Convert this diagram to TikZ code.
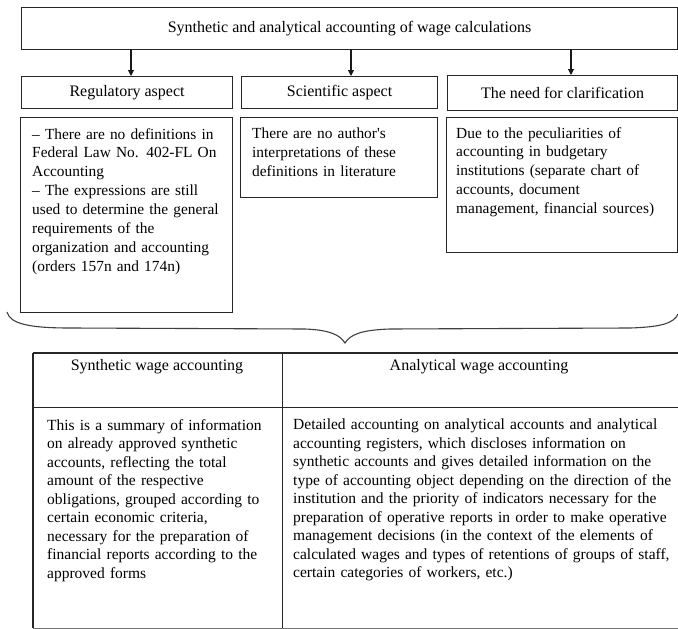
\documentclass[tikz,border=0pt]{standalone}
\usepackage{fontspec}
\setmainfont{Liberation Serif}
\usetikzlibrary{arrows.meta}
\begin{document}
\begin{tikzpicture}[x=1pt,y=-1pt,
  box/.style={draw=black!85, line width=1.1pt, inner sep=0pt, anchor=north west, font=\fontsize{16}{19}\selectfont},
  txt/.style={inner sep=0pt, anchor=north west, align=left},
  toptxt/.style={txt, font=\fontsize{15.4}{18.9}\selectfont},
  tabtxt/.style={txt, font=\fontsize{15.5}{18.5}\selectfont},
  hdr/.style={inner sep=0pt, font=\fontsize{16}{19}\selectfont},
  arr/.style={draw=black!90, line width=1.1pt, -{Triangle[length=6pt,width=6pt]}},
  rule/.style={draw=black!85, line width=1.1pt},
  cell/.style={inner sep=0pt, anchor=north west}]
\useasboundingbox (0,0) rectangle (678,629);
\fill[white] (0,0) rectangle (678,629);

% top box
\node[box, minimum width=656pt, minimum height=42pt] (top) at (21,7) {Synthetic and analytical accounting of wage calculations};

% second row
\node[box, minimum width=211pt, minimum height=32pt] (reg) at (21,76) {Regulatory aspect};
\node[box, minimum width=196pt, minimum height=32pt] (sci) at (241,76) {Scientific aspect};
\node[box, minimum width=230pt, minimum height=35pt] (need) at (447,75) {The need for clarification};

\coordinate (a1) at (131,49);
\coordinate (a2) at (351,49);
\coordinate (a3) at (571,49);
\draw[arr] (a1) -- (a1 |- reg.north);
\draw[arr] (a2) -- (a2 |- sci.north);
\draw[arr] (a3) -- (a3 |- need.north);

% third row boxes
\node[box, minimum width=212pt, minimum height=195pt] (regb) at (20,117) {};
\node[box, minimum width=197pt, minimum height=80pt] (scib) at (240,117) {};
\node[box, minimum width=231pt, minimum height=135pt] (needb) at (446,117) {};

\node[toptxt, text width=240pt] (regt) at (32,128) {-- There are no definitions in\\
Federal Law No. 402-FL On\\
Accounting\\
-- The expressions are still\\
used to determine the general\\
requirements of the\\
organization and accounting\\
(orders 157n and 174n)};

\node[toptxt, text width=220pt] (scit) at (252,128) {There are no author\textquotesingle s\\
interpretations of these\\
definitions in literature};

\node[toptxt, text width=260pt] (needt) at (456,127) {Due to the peculiarities of\\
accounting in budgetary\\
institutions (separate chart of\\
accounts, document\\
management, financial sources)};

% brace
\draw[draw=black!75, line width=1.1pt]
  (7,312) .. controls (10,324) and (30,328) .. (70,328)
  -- (305,329) .. controls (330,330) and (340,335) .. (345,343)
  .. controls (350,335) and (360,330) .. (390,329)
  -- (630,328) .. controls (662,327) and (674,323) .. (678,314);

% table
\node[cell, minimum width=249pt, minimum height=54pt] (synh) at (33,353) {};
\node[cell, minimum width=396pt, minimum height=54pt] (anah) at (282,353) {};
\node[cell, minimum width=249pt, minimum height=221pt] (synb) at (33,407) {};
\node[cell, minimum width=396pt, minimum height=221pt] (anab) at (282,407) {};

\draw[rule] (synh.north west) -- (anah.north east);
\draw[rule] (synh.south west) -- (anah.south east);
\draw[rule] (synh.north west) -- (synb.south west);
\draw[rule] (synh.north east) -- (synb.south east);
\draw[draw=black!55, line width=1.1pt] (synb.south west) -- (anab.south east);

\node[hdr] (synhl) at (157,367) {Synthetic wage accounting};
\node[hdr] (anahl) at (479,367) {Analytical wage accounting};

\node[tabtxt, text width=280pt] (synt) at (47,419) {This is a summary of information\\
on already approved synthetic\\
accounts, reflecting the total\\
amount of the respective\\
obligations, grouped according to\\
certain economic criteria,\\
necessary for the preparation of\\
financial reports according to the\\
approved forms};

\node[tabtxt, text width=440pt] (anat) at (293,419) {Detailed accounting on analytical accounts and analytical\\
accounting registers, which discloses information on\\
synthetic accounts and gives detailed information on the\\
type of accounting object depending on the direction of the\\
institution and the priority of indicators necessary for the\\
preparation of operative reports in order to make operative\\
management decisions (in the context of the elements of\\
calculated wages and types of retentions of groups of staff,\\
certain categories of workers, etc.)};
\end{tikzpicture}
\end{document}
